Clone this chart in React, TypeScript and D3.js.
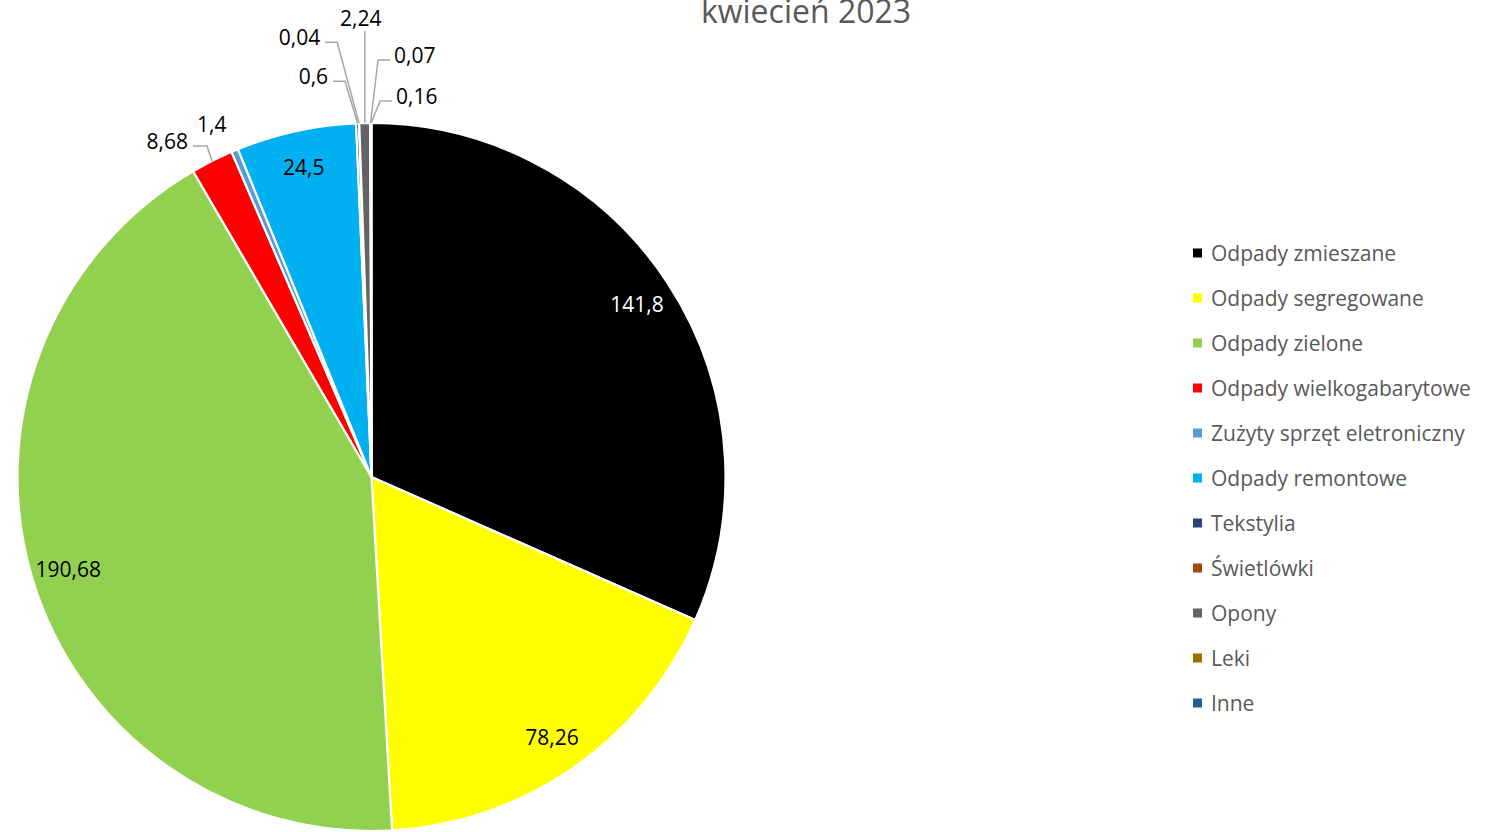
import * as d3 from "d3";

const categories = [
  "Odpady zmieszane",
  "Odpady segregowane",
  "Odpady zielone",
  "Odpady wielkogabarytowe",
  "Zużyty sprzęt eletroniczny",
  "Odpady remontowe",
  "Tekstylia",
  "Świetlówki",
  "Opony",
  "Leki",
  "Inne",
];
const values = [141.8, 78.26, 190.68, 8.68, 1.4, 24.5, 0.6, 0.04, 2.24, 0.07, 0.16];
const labels = ["141,8", "78,26", "190,68", "8,68", "1,4", "24,5", "0,6", "0,04", "2,24", "0,07", "0,16"];
const colors = [
  "#000000",
  "#FFFF00",
  "#92D050",
  "#FF0000",
  "#5B9BD5",
  "#00B0F0",
  "#264478",
  "#9E480E",
  "#636363",
  "#997300",
  "#255E91",
];

// label placement: inside labels sit on the slice centroid, outside ones get leaders
type Outside = { ex: number; ey: number; tail: number; line: boolean };
const outside: Record<number, Outside> = {
  3: { ex: -5, ey: -15, tail: -14, line: true },
  4: { ex: -23, ey: -26.5, tail: 0, line: false },
  6: { ex: -12.5, ey: -42, tail: -12, line: true },
  7: { ex: -22, ey: -81, tail: -12, line: true },
  8: { ex: 0, ey: -92, tail: 0, line: true },
  9: { ex: 7.5, ey: -63, tail: 12, line: true },
  10: { ex: 9, ey: -22, tail: 12, line: true },
};

const FONT = "'Open Sans', sans-serif";
const FS = 21;

export default function App() {
  const width = 1495;
  const height = 832;
  const cx = 371.5;
  const cy = 477;
  const r = 354;

  const pie = d3
    .pie<number>()
    .sort(null)
    .value((d) => d);
  const arcs = pie(values);
  const arc = d3.arc<d3.PieArcDatum<number>>().innerRadius(0).outerRadius(r);
  const labelArc = d3
    .arc<d3.PieArcDatum<number>>()
    .innerRadius(r * 0.895)
    .outerRadius(r * 0.895);

  const legendY = d3
    .scalePoint<string>()
    .domain(categories)
    .range([253, 703]);

  return (
    <svg
      width={width}
      height={height}
      viewBox={`0 0 ${width} ${height}`}
      style={{ position: "absolute", left: 0, top: 0, background: "#fff" }}
      fontFamily={FONT}
    >
      <text x={806} y={23} textAnchor="middle" fontSize={32} fill="#595959">
        kwiecień 2023
      </text>
      <g transform={`translate(${cx},${cy})`}>
        {arcs.map((a, i) => (
          <path key={categories[i]} d={arc(a) ?? ""} fill={colors[i]} stroke="#fff" strokeWidth={2.2} strokeLinejoin="round" />
        ))}
        {arcs.map((a, i) => {
          const o = outside[i];
          if (!o) {
            const [lx, ly] = labelArc.centroid(a);
            return (
              <text
                key={`l${i}`}
                x={lx}
                y={ly}
                textAnchor="middle"
                dominantBaseline="central"
                fontSize={FS}
                fill={i === 0 ? "#fff" : "#000"}
              >
                {labels[i]}
              </text>
            );
          }
          const mid = (a.startAngle + a.endAngle) / 2;
          const px = r * Math.sin(mid);
          const py = -r * Math.cos(mid);
          const elx = px + o.ex;
          const ely = py + o.ey;
          if (!o.line) {
            return (
              <text key={`l${i}`} x={elx} y={ely} textAnchor="middle" dominantBaseline="central" fontSize={FS} fill="#000">
                {labels[i]}
              </text>
            );
          }
          const tx = elx + o.tail;
          const vertical = o.tail === 0;
          return (
            <g key={`l${i}`}>
              <polyline
                points={`${px},${py} ${elx},${ely} ${tx},${ely}`}
                fill="none"
                stroke="#A6A6A6"
                strokeWidth={1.5}
              />
              <text
                x={vertical ? tx - 4 : tx + (o.tail < 0 ? -5 : 4)}
                y={vertical ? ely - 13 : ely - 5}
                textAnchor={vertical ? "middle" : o.tail < 0 ? "end" : "start"}
                dominantBaseline="central"
                fontSize={FS}
                fill="#000"
              >
                {labels[i]}
              </text>
            </g>
          );
        })}
      </g>
      <g>
        {categories.map((c, i) => {
          const y = legendY(c) ?? 0;
          return (
            <g key={c}>
              <rect x={1193} y={y - 4.5} width={9} height={9} fill={colors[i]} />
              <text x={1211} y={y} dominantBaseline="central" fontSize={FS} fill="#595959">
                {c}
              </text>
            </g>
          );
        })}
      </g>
    </svg>
  );
}
